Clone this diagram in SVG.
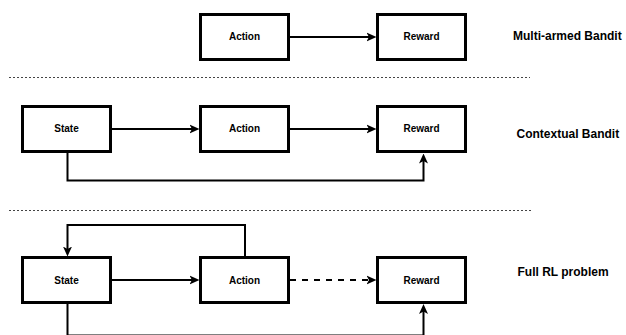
<svg xmlns="http://www.w3.org/2000/svg" width="626" height="335" viewBox="0 0 626 335">
  <style>
    .box { fill: #ffffff; stroke: #000000; stroke-width: 3; }
    .lbl { font-family: "Liberation Sans", Arial, sans-serif; font-weight: bold; font-size: 10px; text-anchor: middle; fill: #000000; }
    .title { font-family: "Liberation Sans", Arial, sans-serif; font-weight: bold; font-size: 12px; fill: #000000; }
    .edge { fill: none; stroke: #000000; stroke-width: 2; }
    .dashed { stroke-dasharray: 6 6; }
    .sep { fill: none; stroke: #444444; stroke-width: 1; stroke-dasharray: 2 2; }
  </style>
  <defs>
    <marker id="arrow" viewBox="0 0 10 10" refX="5" refY="5" markerWidth="10" markerHeight="10" markerUnits="userSpaceOnUse" orient="auto">
      <path d="M0,0.5 L10,5 L0,9.5 L2.5,5 Z" fill="#000000"/>
    </marker>
  </defs>

  <rect width="626" height="335" fill="#ffffff"/>

  <g id="separators">
    <line class="sep" x1="9" y1="77.5" x2="530" y2="77.5"/>
    <line class="sep" x1="9" y1="210.5" x2="531" y2="210.5"/>
  </g>

  <g id="connectors">
    <!-- row 1 -->
    <line class="edge" x1="290" y1="37" x2="371.5" y2="37" marker-end="url(#arrow)"/>
    <!-- row 2 -->
    <line class="edge" x1="112" y1="129" x2="194.5" y2="129" marker-end="url(#arrow)"/>
    <line class="edge" x1="290" y1="129" x2="371.5" y2="129" marker-end="url(#arrow)"/>
    <path class="edge" d="M67.5,153 V180.5 H423.5 V158.5" marker-end="url(#arrow)"/>
    <!-- row 3 -->
    <line class="edge" x1="112" y1="280" x2="194.5" y2="280" marker-end="url(#arrow)"/>
    <line class="edge dashed" x1="290" y1="280" x2="371.5" y2="280" marker-end="url(#arrow)"/>
    <path class="edge" d="M245,256 V225 H67.5 V251.5" marker-end="url(#arrow)"/>
    <path class="edge" d="M67.5,304 V335.5 H423.5 V309" marker-end="url(#arrow)"/>
  </g>

  <g id="mab-action">
    <rect class="box" x="200.5" y="14.5" width="88" height="45"/>
    <text class="lbl" x="244.5" y="40">Action</text>
  </g>
  <g id="mab-reward">
    <rect class="box" x="377.5" y="14.5" width="88" height="45"/>
    <text class="lbl" x="421.5" y="40">Reward</text>
  </g>
  <g id="mab-title">
    <text class="title" x="513" y="39.5">Multi-armed Bandit</text>
  </g>

  <g id="cb-state">
    <rect class="box" x="22.5" y="106.5" width="88" height="45"/>
    <text class="lbl" x="66.5" y="132">State</text>
  </g>
  <g id="cb-action">
    <rect class="box" x="200.5" y="106.5" width="88" height="45"/>
    <text class="lbl" x="244.5" y="132">Action</text>
  </g>
  <g id="cb-reward">
    <rect class="box" x="377.5" y="106.5" width="88" height="45"/>
    <text class="lbl" x="421.5" y="132">Reward</text>
  </g>
  <g id="cb-title">
    <text class="title" x="516.5" y="138.3">Contextual Bandit</text>
  </g>

  <g id="rl-state">
    <rect class="box" x="22.5" y="257.5" width="88" height="45"/>
    <text class="lbl" x="66.5" y="283.5">State</text>
  </g>
  <g id="rl-action">
    <rect class="box" x="200.5" y="257.5" width="88" height="45"/>
    <text class="lbl" x="244.5" y="283.5">Action</text>
  </g>
  <g id="rl-reward">
    <rect class="box" x="377.5" y="257.5" width="88" height="45"/>
    <text class="lbl" x="421.5" y="283.5">Reward</text>
  </g>
  <g id="rl-title">
    <text class="title" x="517.5" y="276.3">Full RL problem</text>
  </g>
</svg>
